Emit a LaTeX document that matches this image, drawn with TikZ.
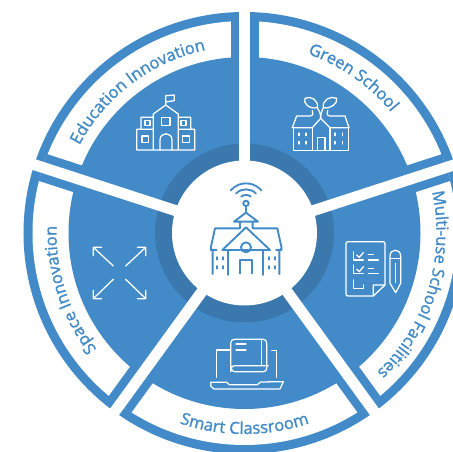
\documentclass[tikz,border=0pt]{standalone}
\usepackage{fontspec}
\usepackage{tikz}
\usetikzlibrary{decorations.text}
\newfontfamily\bandfont[FakeBold=1.4]{Open Sans}
\definecolor{ringblue}{HTML}{428BC8}
\definecolor{ringdark}{HTML}{3A78AE}

\begin{document}
\begin{tikzpicture}[
    x=0.75pt, y=0.75pt,
    whiteicon/.style={draw=white, line width=0.95pt, line join=round, line cap=round, fill=none},
    blueicon/.style={draw=ringblue, line width=1.4pt, line join=round, line cap=round, fill=none},
    iconat/.style 2 args={shift={({#1-244.5},{233-#2})}, x=0.25pt, y=-0.25pt},
    bandlabel/.style={decorate, decoration={text along path, text align=center, text={|\color{ringblue}\fontsize{12.4}{14}\bandfont|#1}}}
]

% Frame of the picture
\clip (-244.5,-219) rectangle (208.5,233);
\fill[white] (-244.5,-219) rectangle (208.5,233);

% Rings
\fill[ringblue] (0,0) circle (221);
\fill[white] (0,0) circle (212);
\fill[ringblue] (0,0) circle (176);
\fill[ringdark] (0,0) circle (89.5);

% Spokes
\foreach \a in {90,18,-54,-126,162} {
    \draw[ringblue, line width=21pt] (\a:170) -- (\a:212);
    \draw[white, line width=8.25pt] (0,0) -- (\a:235);
}
\fill[white] (0,0) circle (72.5);

% Labels on the white bands
\path[bandlabel={Education Innovation}] (176:187) arc (176:78:187);
\path[bandlabel={Green School}] (104:190) arc (104:6:190);
\path[bandlabel={Multi-use School Facilities}] (41:192) arc (41:-75:192);
\path[bandlabel={Smart Classroom}] (-130:201) arc (-130:-50:201);
\path[bandlabel={Space Innovation}] (245:188) arc (245:151:188);

% Education Innovation
\begin{scope}[iconat={0}{0}]
    \draw[whiteicon] (410,450) -- (584,450) (410,450) -- (410,388) -- (423,388) -- (423,352) -- (460,352)
        (584,450) -- (584,388) -- (572,388) -- (572,352) -- (535,352)
        (423,388) -- (460,388) (535,388) -- (572,388)
        (460,450) -- (460,342) -- (497,315) -- (535,342) -- (535,450);
    \draw[whiteicon] (480,450) -- (480,420) .. controls (480,395) and (516,395) .. (516,420) -- (516,450);
    \draw[whiteicon] (484,353) rectangle (510,377) (435,362) rectangle (450,377) (543,362) rectangle (558,377)
        (426,408) rectangle (446,428) (548,408) rectangle (568,428);
    \draw[whiteicon] (497,315) -- (497,287) -- (523,285) -- (523,302) -- (497,306);
\end{scope}

% Green School
\begin{scope}[iconat={230}{0}]
    \draw[whiteicon] (187,383) -- (200,348) -- (240,348) .. controls (250,348) and (250,338) .. (247,332);
    \draw[whiteicon] (357,383) -- (345,348) -- (300,348) .. controls (290,348) and (290,338) .. (293,332);
    \draw[whiteicon] (262,323) .. controls (238,328) and (218,310) .. (225,295)
        .. controls (242,286) and (266,300) .. (262,323) .. controls (268,332) and (272,340) .. (272,355);
    \draw[whiteicon] (280,323) .. controls (302,328) and (324,310) .. (320,295)
        .. controls (302,286) and (276,300) .. (280,323) .. controls (276,332) and (272,340) .. (272,355);
    \draw[whiteicon] (187,383) -- (247,383) -- (272,355) -- (300,383) -- (357,383);
    \draw[whiteicon] (190,383) -- (190,452) -- (355,452) -- (355,383) (247,383) -- (247,452) (300,383) -- (300,452);
    \draw[whiteicon] (262,452) -- (262,412) -- (285,412) -- (285,452);
    \foreach \wx in {207,228,315,337} {
        \foreach \wy in {403,428} {
            \draw[whiteicon] (\wx,\wy-4) -- (\wx,\wy+4);
        }
    }
\end{scope}

% Multi-use School Facilities
\begin{scope}[iconat={230}{220}]
    \draw[whiteicon] (430,228) -- (355,228) .. controls (350,228) and (348,226) .. (348,222) -- (348,71)
        .. controls (348,67) and (350,65) .. (355,65) -- (458,65) .. controls (463,65) and (465,67) .. (465,71) -- (465,195)
        -- (430,228) -- (430,195) -- (465,195);
    \draw[whiteicon] (370,95) -- (370,120) -- (400,120) (370,135) -- (370,160) -- (400,160)
        (370,180) -- (370,205) -- (400,205) -- (400,195);
    \draw[whiteicon] (380,105) -- (388,112) -- (400,98) (380,148) -- (388,155) -- (400,140);
    \draw[whiteicon] (415,103) -- (430,103) (415,120) -- (445,120) (415,145) -- (430,145) (415,160) -- (445,160);
    \draw[whiteicon] (480,190) -- (480,108) .. controls (480,85) and (512,85) .. (512,108) -- (512,190) -- (497,218) -- cycle;
    \draw[whiteicon] (480,115) -- (512,115) (496,130) -- (496,188);
\end{scope}

% Smart Classroom
\begin{scope}[iconat={0}{220}]
    \draw[whiteicon] (650,472) -- (650,390) -- (690,390);
    \draw[whiteicon] (692,455) -- (692,370) .. controls (692,362) and (696,358) .. (704,358) -- (790,358)
        .. controls (796,358) and (800,362) .. (800,370) -- (800,445) .. controls (800,452) and (796,455) .. (790,455) -- (704,455)
        .. controls (692,455) and (690,437) .. (704,437) -- (805,437);
    \draw[whiteicon] (708,372) -- (738,372) (708,390) -- (738,390) (785,358) -- (785,437);
    \draw[whiteicon] (815,392) -- (830,392) -- (830,472);
    \draw[whiteicon] (632,487) -- (680,487) -- (688,494) -- (772,494) -- (782,486) -- (850,485)
        -- (840,507) -- (642,507) -- (632,498) -- cycle;
\end{scope}

% Space Innovation
\begin{scope}[iconat={0}{220}]
    \draw[whiteicon] (340,138) -- (280,82) (305,82) -- (280,82) -- (280,107);
    \draw[whiteicon] (377,138) -- (437,82) (412,82) -- (437,82) -- (437,107);
    \draw[whiteicon] (340,178) -- (280,236) (305,236) -- (280,236) -- (280,211);
    \draw[whiteicon] (377,178) -- (437,236) (412,236) -- (437,236) -- (437,211);
\end{scope}

% Centre
\begin{scope}[iconat={190}{170}]
    \draw[blueicon] (168,100) ++(220:60) arc (220:320:60);
    \draw[blueicon] (168,100) ++(225:42) arc (225:315:42);
    \draw[blueicon] (168,100) ++(235:25) arc (235:305:25);
    \draw[blueicon] (168,100) circle (8);
    \draw[blueicon] (168,108) -- (168,128) (132,155) -- (168,128) -- (204,155) -- cycle;
    \draw[blueicon] (150,155) -- (150,175) -- (75,175) -- (62,235) -- (68,242) -- (68,312);
    \draw[blueicon] (188,155) -- (188,175) -- (262,175) -- (275,235) -- (268,242) -- (268,312);
    \draw[blueicon] (168,172) -- (97,240) -- (240,240) -- cycle (62,240) -- (80,240) (258,240) -- (275,240);
    \draw[blueicon] (115,240) -- (115,315) (218,240) -- (218,315);
    \draw[blueicon] (168,232) circle (15);
    \draw[blueicon] (150,310) -- (150,270) -- (187,270) -- (187,310);
    \foreach \wx in {82,100,238,255} {
        \foreach \wy in {265,292} {
            \draw[blueicon] (\wx,\wy-4) -- (\wx,\wy+4);
        }
    }
\end{scope}

\end{tikzpicture}
\end{document}
